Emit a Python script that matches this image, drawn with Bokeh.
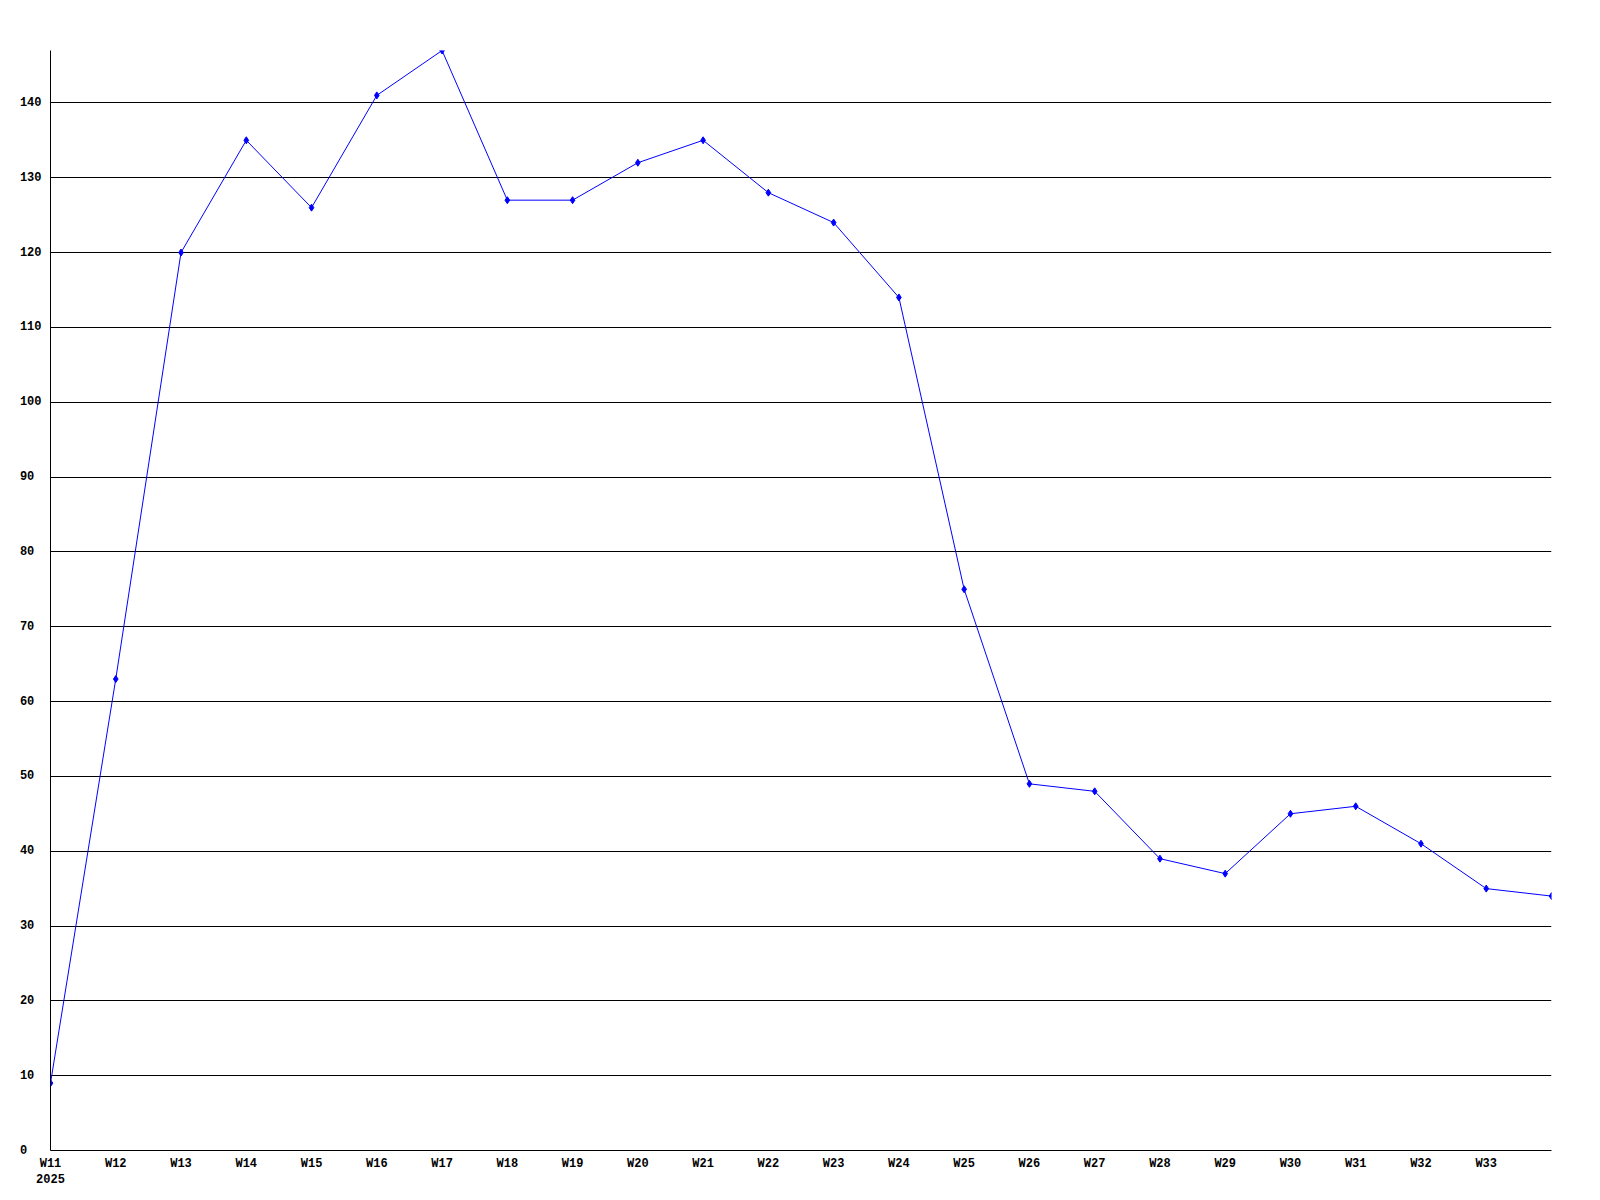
from bokeh.plotting import figure
from bokeh.models import Range1d, FixedTicker
from bokeh.embed import file_html
from bokeh.resources import INLINE

weeks = ["W11", "W12", "W13", "W14", "W15", "W16", "W17", "W18", "W19", "W20", "W21", "W22",
         "W23", "W24", "W25", "W26", "W27", "W28", "W29", "W30", "W31", "W32", "W33", "W34"]
values = [9, 63, 120, 135, 126, 141, 147, 127, 127, 132, 135, 128,
          124, 114, 75, 49, 48, 39, 37, 45, 46, 41, 35, 34]
year_label = "2025"
y_ticks = [0, 10, 20, 30, 40, 50, 60, 70, 80, 90, 100, 110, 120, 130, 140]

xs = list(range(len(weeks)))

FONT = "Liberation Mono"

p = figure(width=1584, height=1192, output_backend="svg", toolbar_location=None,
           x_range=Range1d(0, len(weeks) - 1), y_range=Range1d(0, max(values)),
           min_border_left=50, min_border_top=50, min_border_right=33, min_border_bottom=42)
p.outline_line_color = None
p.background_fill_color = "white"
p.border_fill_color = "white"

p.xgrid.grid_line_color = None
p.ygrid.grid_line_color = "black"
p.ygrid.grid_line_alpha = 1.0
p.ygrid.grid_line_width = 1
p.ygrid.ticker = FixedTicker(ticks=y_ticks)

p.yaxis.ticker = FixedTicker(ticks=y_ticks)
# labels drawn left-aligned (monospace, padded with non-breaking spaces)
width_chars = max(len(str(t)) for t in y_ticks)
p.yaxis.major_label_overrides = {t: str(t) + "\u00a0" * (width_chars - len(str(t))) for t in y_ticks}

p.xaxis.ticker = FixedTicker(ticks=xs[:-1])
overrides = {i: w for i, w in enumerate(weeks)}
overrides[0] = weeks[0] + "\n" + year_label
p.xaxis.major_label_overrides = overrides

for ax in (p.xaxis[0], p.yaxis[0]):
    ax.axis_line_color = "black"
    ax.axis_line_width = 1
    ax.major_tick_line_color = None
    ax.minor_tick_line_color = None
    ax.major_tick_in = 0
    ax.major_tick_out = 0
    ax.major_label_text_font = FONT
    ax.major_label_text_font_style = "bold"
    ax.major_label_text_font_size = "12px"
    ax.major_label_text_color = "black"

p.yaxis.major_label_standoff = 9
p.xaxis.major_label_standoff = 6
p.xaxis.major_label_text_line_height = 1.2

p.line(xs, values, line_color="#0000ff", line_width=1)
p.scatter(xs, values, marker="diamond", size=7, fill_color="#0000ff", line_color="#0000ff")

open("out.html", "w").write(file_html(p, INLINE))
